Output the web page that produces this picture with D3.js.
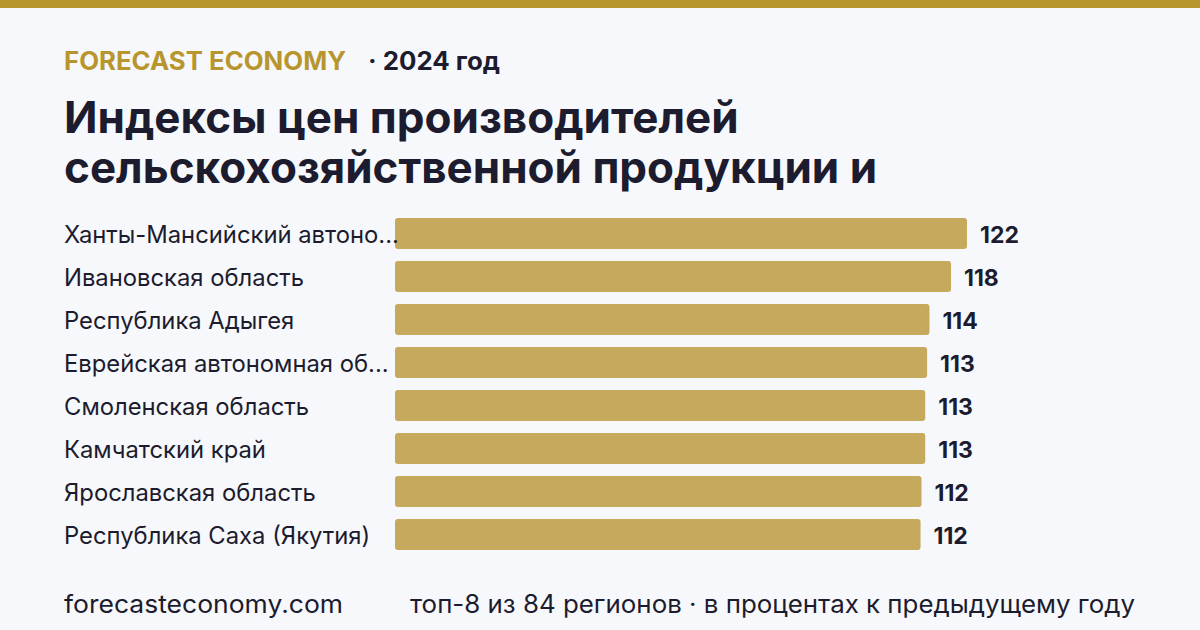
<!DOCTYPE html>
<html>
<head>
<meta charset="utf-8">
<script src="https://cdn.jsdelivr.net/npm/d3@7"></script>
<style>
  html, body { margin: 0; padding: 0; background: #f7f8fc; }
  svg { display: block; }
</style>
</head>
<body>
<svg width="1200" height="630"></svg>
<script>
// Данные графика
const regions = [
    "Ханты-Мансийский автономный округ — Югра",
    "Ивановская область",
    "Республика Адыгея",
    "Еврейская автономная область",
    "Смоленская область",
    "Камчатский край",
    "Ярославская область",
    "Республика Саха (Якутия)"
];
const values = [121.9, 118.5, 113.9, 113.4, 113.0, 113.0, 112.2, 112.0];
const valueLabels = ["122", "118", "114", "113", "113", "113", "112", "112"];

const brand = "FORECAST ECONOMY";
const yearText = "· 2024 год";
const titleLines = ["Индексы цен производителей", "сельскохозяйственной продукции и"];
const footerLeft = "forecasteconomy.com";
const footerRight = "топ-8 из 84 регионов · в процентах к предыдущему году";

const gold = "#b8962e";
const barColor = "#c5a95c";
const dark = "#1c1c2e";

let svg = d3.select("svg");
svg.selectAll('*').remove();

let attr_area = { left: 395, top: 218, rowStep: 43, barH: 31 };

svg.append("rect").attr("width", 1200).attr("height", 630).attr("fill", "#f7f8fc");
svg.append("rect").attr("width", 1200).attr("height", 8).attr("fill", gold);

// Шапка
svg.append("text")
    .attr("x", 64).attr("y", 70)
    .attr("font-family", "Inter").attr("font-weight", 700).attr("font-size", 25)
    .attr("textLength", 282).attr("lengthAdjust", "spacingAndGlyphs")
    .attr("fill", gold).text(brand);
svg.append("text")
    .attr("x", 368).attr("y", 70)
    .attr("font-family", "Inter").attr("font-weight", 700).attr("font-size", 25)
    .attr("textLength", 132).attr("lengthAdjust", "spacingAndGlyphs")
    .attr("fill", dark).text(yearText);

svg.selectAll(".title")
    .data(titleLines)
    .enter()
    .append("text")
    .attr("x", 64)
    .attr("y", (d, i) => 133 + i * 50)
    .attr("font-family", "Inter").attr("font-weight", 700).attr("font-size", 44)
    .attr("fill", dark)
    .text(d => d);

// Шкалы
const scaleX = d3.scaleLinear().domain([0, 121.9]).range([0, 967 - attr_area.left]);
const scaleY = d3.scaleBand()
    .domain(regions)
    .range([attr_area.top, attr_area.top + (regions.length - 1) * attr_area.rowStep + attr_area.barH])
    .paddingInner(1 - attr_area.barH / attr_area.rowStep)
    .paddingOuter(0);

const rows = regions.map((r, i) => ({ region: r, value: values[i], label: valueLabels[i] }));

svg.selectAll(".bar")
    .data(rows)
    .enter()
    .append("rect")
    .attr("x", attr_area.left)
    .attr("y", d => scaleY(d.region))
    .attr("width", d => scaleX(d.value))
    .attr("height", scaleY.bandwidth())
    .attr("rx", 3)
    .attr("fill", barColor);

// Подписи регионов: длинные названия обрезаем по числу символов
const maxChars = 24;
svg.selectAll(".lbl")
    .data(rows)
    .enter()
    .append("text")
    .attr("x", 64)
    .attr("y", d => scaleY(d.region) + scaleY.bandwidth() / 2)
    .attr("dy", "0.42em")
    .attr("font-family", "Inter").attr("font-size", 23.8)
    .attr("fill", dark)
    .text(d => d.region.length > maxChars ? d.region.slice(0, maxChars - 1) + "..." : d.region);

svg.selectAll(".val")
    .data(rows)
    .enter()
    .append("text")
    .attr("x", d => attr_area.left + scaleX(d.value) + 13)
    .attr("y", d => scaleY(d.region) + scaleY.bandwidth() / 2)
    .attr("dy", "0.42em")
    .attr("font-family", "Inter").attr("font-weight", 700).attr("font-size", 23)
    .attr("fill", dark)
    .text(d => d.label);

// Подвал
svg.append("text")
    .attr("x", 64).attr("y", 613)
    .attr("font-family", "Inter").attr("font-size", 25)
    .attr("textLength", 279).attr("lengthAdjust", "spacingAndGlyphs")
    .attr("fill", dark).text(footerLeft);
svg.append("text")
    .attr("x", 410).attr("y", 613)
    .attr("font-family", "Inter").attr("font-size", 25)
    .attr("textLength", 725).attr("lengthAdjust", "spacingAndGlyphs")
    .attr("fill", dark).text(footerRight);
</script>
</body>
</html>
